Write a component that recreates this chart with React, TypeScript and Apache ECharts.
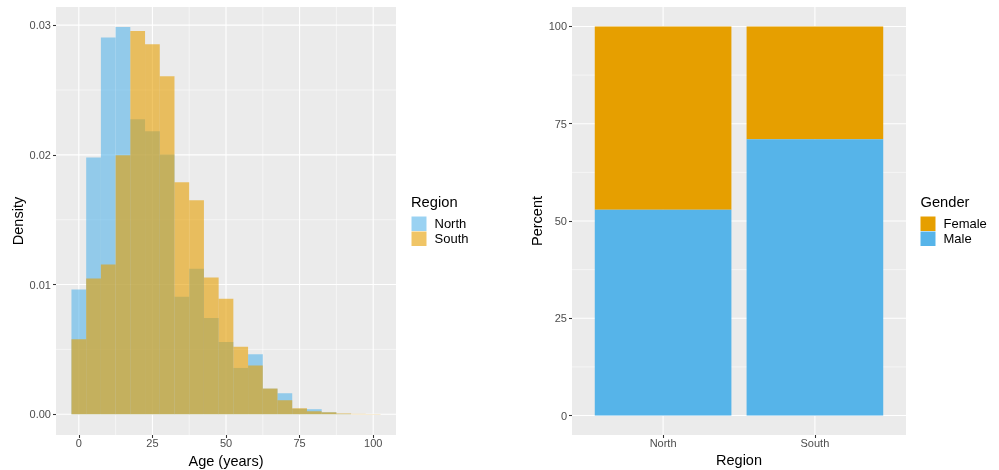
import React, { useEffect, useRef } from "react";
import * as echarts from "echarts";

// ---- Data ----
const AGE_BINS = [0, 5, 10, 15, 20, 25, 30, 35, 40, 45, 50, 55, 60, 65, 70, 75, 80, 85, 90, 95, 100];
const NORTH_DENSITY = [0.00962, 0.0198, 0.02905, 0.02985, 0.02275, 0.02182, 0.02003, 0.00906, 0.01122, 0.00743, 0.00558, 0.00357, 0.00463, 0.00197, 0.00162, 0.00042, 0.00039, 0.00015, 0.00003, 0.0, 0.0];
const SOUTH_DENSITY = [0.00578, 0.01046, 0.01154, 0.01997, 0.02954, 0.02853, 0.02607, 0.01789, 0.0165, 0.01054, 0.00891, 0.00521, 0.00376, 0.00198, 0.00108, 0.00046, 0.00023, 0.00015, 0.00006, 0.00003, 0.00002];
const BIN_WIDTH = 5;
const LEFT_X_TICKS = [0, 25, 50, 75, 100];
const LEFT_Y_TICKS = [0, 0.01, 0.02, 0.03];

const REGIONS = ["North", "South"];
const MALE_PCT = [52.9, 71.0];
const FEMALE_PCT = [47.1, 29.0];
const RIGHT_Y_TICKS = [0, 25, 50, 75, 100];

// ---- Styling ----
const NORTH_COLOR = "rgba(86,180,233,0.6)";
const SOUTH_COLOR = "rgba(230,159,0,0.6)";
const FEMALE_COLOR = "#E69F00";
const MALE_COLOR = "#56B4E9";
const FONT = "'Liberation Sans', Arial, Helvetica, sans-serif";
const LX: [number, number] = [-7.75, 107.75];
const LY: [number, number] = [-0.0016, 0.0314];
const RX: [number, number] = [0.4, 2.6];
const RY: [number, number] = [-5, 105];

const mids = (arr: number[]) => arr.slice(0, -1).map((v, i) => (v + arr[i + 1]) / 2);

function gridLines(xMajor: number[], xMinor: number[], yMajor: number[], yMinor: number[], xe: number[], ye: number[]) {
  const d: number[][] = [];
  xMajor.forEach((v) => d.push([v, ye[0], v, ye[1], 1.07]));
  xMinor.forEach((v) => d.push([v, ye[0], v, ye[1], 0.53]));
  yMajor.forEach((v) => d.push([xe[0], v, xe[1], v, 1.07]));
  yMinor.forEach((v) => d.push([xe[0], v, xe[1], v, 0.53]));
  return d;
}

const lineRender = (params: any, api: any) => {
  const p1 = api.coord([api.value(0), api.value(1)]);
  const p2 = api.coord([api.value(2), api.value(3)]);
  return {
    type: "line",
    shape: { x1: p1[0], y1: p1[1], x2: p2[0], y2: p2[1] },
    style: { stroke: "#FFFFFF", lineWidth: api.value(4) },
  };
};

const histRender = (color: string) => (params: any, api: any) => {
  const c = api.value(0);
  const d = api.value(1);
  const p1 = api.coord([c - BIN_WIDTH / 2, d]);
  const p2 = api.coord([c + BIN_WIDTH / 2, 0]);
  return {
    type: "rect",
    shape: { x: p1[0], y: p1[1], width: p2[0] - p1[0], height: p2[1] - p1[1] },
    style: { fill: color },
  };
};

const stackRender = (color: string) => (params: any, api: any) => {
  const x = api.value(0);
  const top = api.value(1);
  const base = api.value(2);
  const p1 = api.coord([x - 0.45, top]);
  const p2 = api.coord([x + 0.45, base]);
  return {
    type: "rect",
    shape: { x: p1[0], y: p1[1], width: p2[0] - p1[0], height: p2[1] - p1[1] },
    style: { fill: color },
  };
};

export default function App() {
  const ref = useRef<HTMLDivElement>(null);

  useEffect(() => {
    if (!ref.current) return;
    const chart = echarts.init(ref.current, undefined, { renderer: "svg" });

    const axisLabelBase = { color: "#4D4D4D", fontSize: 11, fontFamily: FONT };
    const tickBase = { show: true, length: 3, lineStyle: { color: "#333333", width: 1.07 } };
    const nameStyle = { color: "#000000", fontSize: 14.5, fontFamily: FONT };
    const hiddenLine = { show: false, onZero: false };

    const option: any = {
      animation: false,
      textStyle: { fontFamily: FONT },
      title: [
        { text: "Region", left: 411, top: 194, padding: 0, textStyle: { fontSize: 14.7, fontWeight: "normal", color: "#000", fontFamily: FONT } },
        { text: "Gender", left: 920.5, top: 194, padding: 0, textStyle: { fontSize: 14.7, fontWeight: "normal", color: "#000", fontFamily: FONT } },
      ],
      legend: [
        {
          data: ["North", "South"],
          left: 411.5,
          top: 216.5,
          orient: "vertical",
          padding: 0,
          itemWidth: 15,
          itemHeight: 14.5,
          itemGap: 0.5,
          icon: "rect",
          selectedMode: false,
          textStyle: { fontSize: 13, color: "#000", fontFamily: FONT, lineHeight: 14.5, padding: [0, 0, 0, 3] },
        },
        {
          data: ["Female", "Male"],
          left: 920.5,
          top: 216.5,
          orient: "vertical",
          padding: 0,
          itemWidth: 15,
          itemHeight: 14.5,
          itemGap: 0.5,
          icon: "rect",
          selectedMode: false,
          textStyle: { fontSize: 13, color: "#000", fontFamily: FONT, lineHeight: 14.5, padding: [0, 0, 0, 3] },
        },
      ],
      grid: [
        { left: 56, top: 7, width: 340, height: 428, show: true, backgroundColor: "#EBEBEB", borderWidth: 0, containLabel: false, outerBoundsMode: "none" },
        { left: 572, top: 7, width: 334, height: 428, show: true, backgroundColor: "#EBEBEB", borderWidth: 0, containLabel: false, outerBoundsMode: "none" },
      ],
      xAxis: [
        {
          type: "value",
          gridIndex: 0,
          position: "bottom",
          min: LX[0],
          max: LX[1],
          splitLine: { show: false },
          axisLine: hiddenLine,
          axisTick: { ...tickBase, customValues: LEFT_X_TICKS },
          axisLabel: { ...axisLabelBase, margin: 2, customValues: LEFT_X_TICKS, formatter: (v: number) => String(v) },
          name: "Age (years)",
          nameLocation: "middle",
          nameGap: 18,
          nameTextStyle: { ...nameStyle, verticalAlign: "top" },
        },
        {
          type: "value",
          gridIndex: 1,
          position: "bottom",
          min: RX[0],
          max: RX[1],
          splitLine: { show: false },
          axisLine: hiddenLine,
          axisTick: { ...tickBase, customValues: [1, 2] },
          axisLabel: { ...axisLabelBase, margin: 2, customValues: [1, 2], formatter: (v: number) => REGIONS[Math.round(v) - 1] ?? "" },
          name: "Region",
          nameLocation: "middle",
          nameGap: 17,
          nameTextStyle: { ...nameStyle, verticalAlign: "top" },
        },
      ],
      yAxis: [
        {
          type: "value",
          gridIndex: 0,
          position: "left",
          min: LY[0],
          max: LY[1],
          splitLine: { show: false },
          axisLine: hiddenLine,
          axisTick: { ...tickBase, customValues: LEFT_Y_TICKS },
          axisLabel: { ...axisLabelBase, margin: 5, customValues: LEFT_Y_TICKS, formatter: (v: number) => v.toFixed(2) },
          name: "Density",
          nameLocation: "middle",
          nameGap: 29,
          nameTextStyle: nameStyle,
        },
        {
          type: "value",
          gridIndex: 1,
          position: "left",
          min: RY[0],
          max: RY[1],
          splitLine: { show: false },
          axisLine: hiddenLine,
          axisTick: { ...tickBase, customValues: RIGHT_Y_TICKS },
          axisLabel: { ...axisLabelBase, margin: 5, customValues: RIGHT_Y_TICKS, formatter: (v: number) => String(v) },
          name: "Percent",
          nameLocation: "middle",
          nameGap: 25,
          nameTextStyle: nameStyle,
        },
      ],
      series: [
        {
          type: "custom",
          name: "_gridL",
          xAxisIndex: 0,
          yAxisIndex: 0,
          silent: true,
          z: 1,
          renderItem: lineRender,
          data: gridLines(LEFT_X_TICKS, mids(LEFT_X_TICKS), LEFT_Y_TICKS, mids(LEFT_Y_TICKS), LX, LY),
        },
        {
          type: "custom",
          name: "_gridR",
          xAxisIndex: 1,
          yAxisIndex: 1,
          silent: true,
          z: 1,
          renderItem: lineRender,
          data: gridLines([1, 2], [], RIGHT_Y_TICKS, mids(RIGHT_Y_TICKS), RX, RY),
        },
        {
          type: "custom",
          name: "North",
          xAxisIndex: 0,
          yAxisIndex: 0,
          z: 2,
          itemStyle: { color: NORTH_COLOR },
          renderItem: histRender(NORTH_COLOR),
          data: AGE_BINS.map((b, i) => [b, NORTH_DENSITY[i]]),
        },
        {
          type: "custom",
          name: "South",
          xAxisIndex: 0,
          yAxisIndex: 0,
          z: 3,
          itemStyle: { color: SOUTH_COLOR },
          renderItem: histRender(SOUTH_COLOR),
          data: AGE_BINS.map((b, i) => [b, SOUTH_DENSITY[i]]),
        },
        {
          type: "custom",
          name: "Female",
          xAxisIndex: 1,
          yAxisIndex: 1,
          z: 2,
          itemStyle: { color: FEMALE_COLOR },
          renderItem: stackRender(FEMALE_COLOR),
          data: REGIONS.map((r, i) => [i + 1, MALE_PCT[i] + FEMALE_PCT[i], MALE_PCT[i]]),
        },
        {
          type: "custom",
          name: "Male",
          xAxisIndex: 1,
          yAxisIndex: 1,
          z: 2,
          itemStyle: { color: MALE_COLOR },
          renderItem: stackRender(MALE_COLOR),
          data: REGIONS.map((r, i) => [i + 1, MALE_PCT[i], 0]),
        },
      ],
    };

    chart.setOption(option);
    return () => chart.dispose();
  }, []);

  return <div ref={ref} style={{ position: "fixed", left: 0, top: 0, width: 999, height: 470 }} />;
}
